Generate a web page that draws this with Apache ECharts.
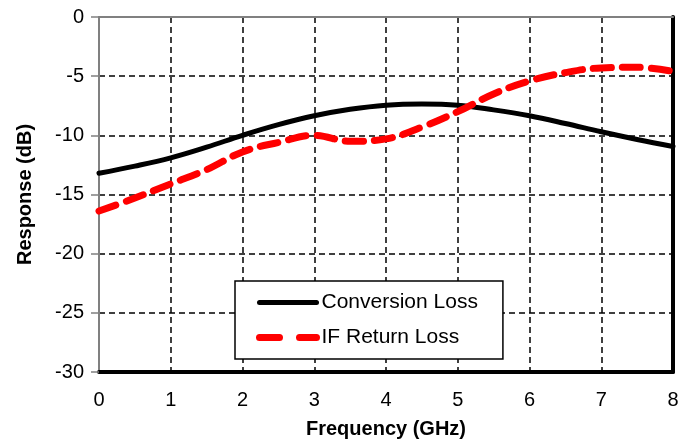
<!DOCTYPE html>
<html>
<head>
<meta charset="utf-8">
<script src="https://cdn.jsdelivr.net/npm/echarts@6/dist/echarts.min.js"></script>
<style>
html,body{margin:0;padding:0;background:#fff;overflow:hidden;}
#chart{width:691px;height:444px;}
</style>
</head>
<body>
<div id="chart"></div>
<script>
// Data
var freqGHz = [0, 0.5, 1, 1.5, 2, 2.5, 3, 3.5, 4, 4.5, 5, 5.5, 6, 6.5, 7, 7.5, 8];
var conversionLoss = [-13.2, -12.6, -11.9, -11.0, -10.0, -9.1, -8.35, -7.8, -7.45, -7.35, -7.45, -7.85, -8.35, -9.0, -9.7, -10.35, -10.95];
var ifReturnLoss = [-16.4, -15.3, -14.1, -12.9, -11.4, -10.6, -10.0, -10.5, -10.3, -9.3, -8.0, -6.5, -5.4, -4.7, -4.3, -4.25, -4.6];
var seriesNames = ['Conversion Loss', 'IF Return Loss'];
var xTicks = [0, 1, 2, 3, 4, 5, 6, 7, 8];
var yTicks = [-30, -25, -20, -15, -10, -5, 0];

function pairs(xs, ys) { return xs.map(function (x, i) { return [x, ys[i]]; }); }

var FONT = "'Liberation Sans', Arial, sans-serif";
var chart = echarts.init(document.getElementById('chart'), null, { renderer: 'canvas' });

var gridDash = { color: '#000', width: 1.5, type: [6, 4] };

chart.setOption({
  animation: false,
  backgroundColor: '#fff',
  grid: { left: 99, top: 17, right: 18, bottom: 68, containLabel: false },
  legend: {
    orient: 'vertical',
    left: 235, top: 281,
    padding: [11, 25, 11, 21],
    itemWidth: 57, itemHeight: 20, itemGap: 14,
    borderColor: '#000', borderWidth: 1.5,
    backgroundColor: '#fff',
    itemStyle: { opacity: 0 },
    textStyle: { fontFamily: FONT, fontSize: 21, color: '#000' },
    data: [
      { name: seriesNames[0], lineStyle: { color: '#000', width: 5, type: 'solid', cap: 'round' } },
      { name: seriesNames[1], lineStyle: { color: '#ff0000', width: 7, type: [20, 20], cap: 'round' } }
    ]
  },
  xAxis: [{
    type: 'value', min: xTicks[0], max: xTicks[xTicks.length - 1], interval: 1,
    name: 'Frequency (GHz)', nameLocation: 'middle', nameGap: 47,
    nameTextStyle: { fontFamily: FONT, fontSize: 20, fontWeight: 'bold', color: '#000' },
    axisLine: { show: true, onZero: false, lineStyle: { color: '#000', width: 4 } },
    axisTick: { show: false },
    axisLabel: { fontFamily: FONT, fontSize: 20, color: '#000', margin: 18 },
    splitLine: { show: true, lineStyle: gridDash }
  }, {
    type: 'value', position: 'top', min: 0, max: 8,
    axisLine: { show: true, onZero: false, lineStyle: { color: '#808080', width: 2 } },
    axisTick: { show: false }, axisLabel: { show: false }, splitLine: { show: false }
  }],
  yAxis: [{
    type: 'value', min: yTicks[0], max: yTicks[yTicks.length - 1], interval: 5,
    name: 'Response (dB)', nameLocation: 'middle', nameGap: 64,
    nameTextStyle: { fontFamily: FONT, fontSize: 20, fontWeight: 'bold', color: '#000' },
    axisLine: { show: true, onZero: false, lineStyle: { color: '#808080', width: 2 } },
    axisTick: { show: true, inside: false, length: 8, lineStyle: { color: '#808080', width: 1.5 } },
    axisLabel: { fontFamily: FONT, fontSize: 20, color: '#000', margin: 15 },
    splitLine: { show: true, lineStyle: gridDash }
  }, {
    type: 'value', position: 'right', min: -30, max: 0,
    axisLine: { show: true, onZero: false, lineStyle: { color: '#000', width: 4 } },
    axisTick: { show: false }, axisLabel: { show: false }, splitLine: { show: false }
  }],
  series: [{
    name: seriesNames[0], type: 'line', data: pairs(freqGHz, conversionLoss),
    smooth: 0.4, showSymbol: false, symbol: 'none', z: 3,
    itemStyle: { color: '#000' },
    lineStyle: { color: '#000', width: 5, cap: 'round' }
  }, {
    name: seriesNames[1], type: 'line', data: pairs(freqGHz, ifReturnLoss),
    smooth: 0.4, showSymbol: false, symbol: 'none', z: 4,
    itemStyle: { color: '#ff0000' },
    lineStyle: { color: '#ff0000', width: 7, type: [18, 11], cap: 'round' }
  }]
});
</script>
</body>
</html>
